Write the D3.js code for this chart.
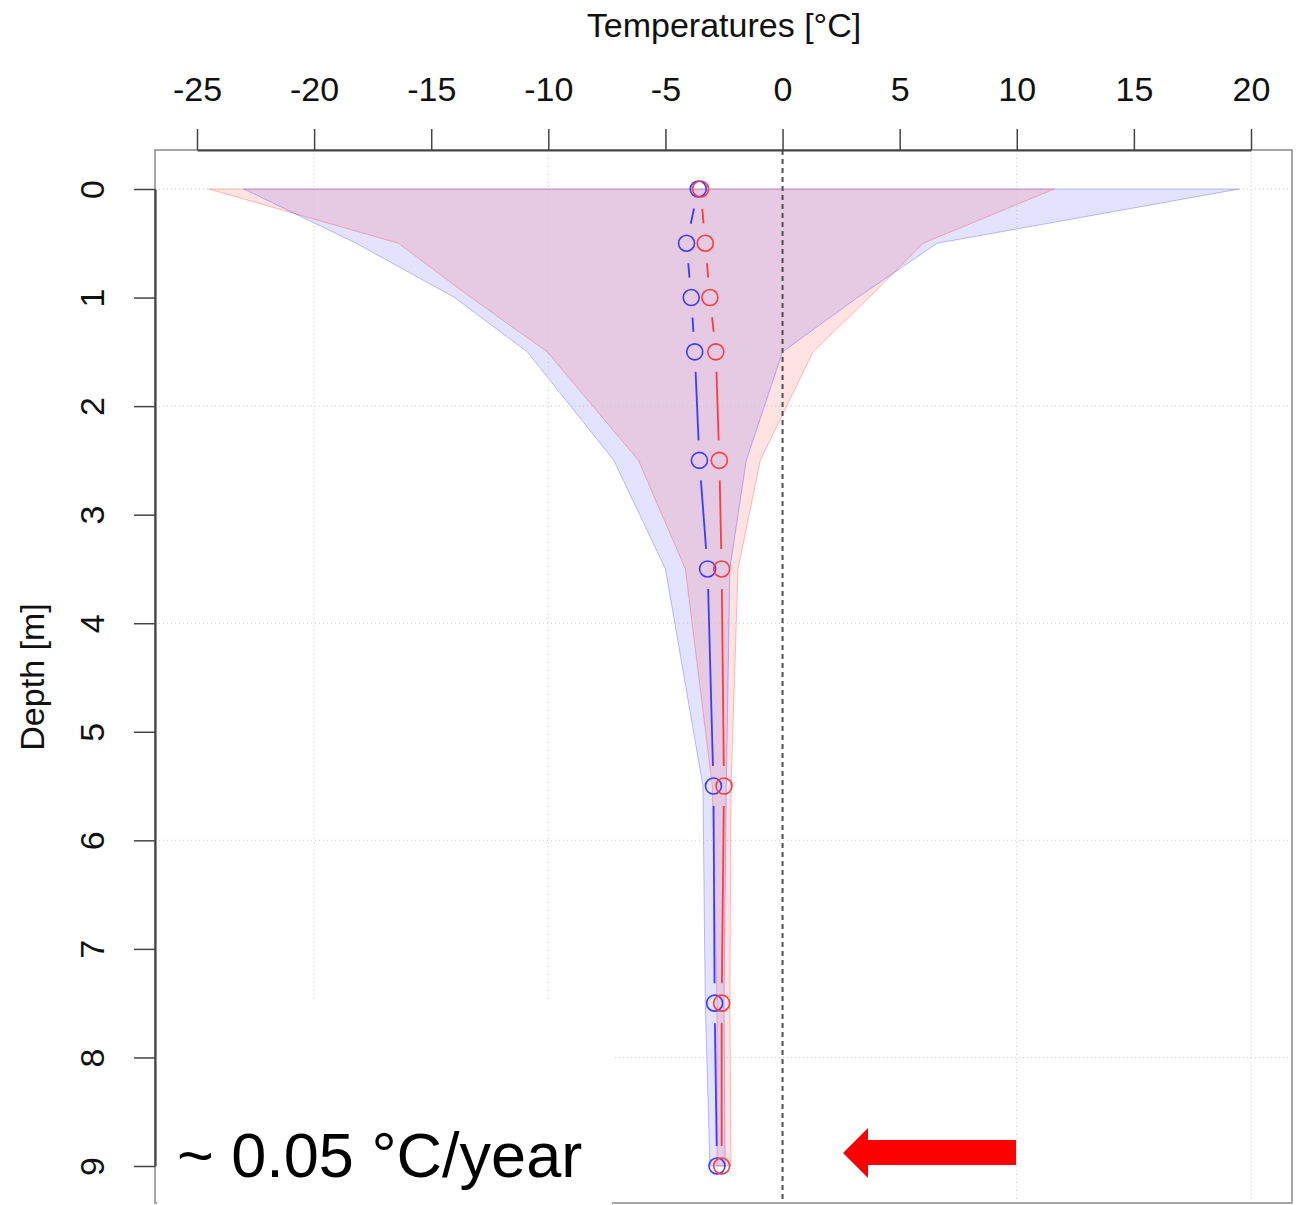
<!DOCTYPE html>
<html>
<head>
<meta charset="utf-8">
<script src="https://cdn.jsdelivr.net/npm/d3@7"></script>
<style>
  html, body { margin: 0; padding: 0; background: #fff; }
  svg { display: block; }
  text { font-family: "Liberation Sans", Arial, Helvetica, sans-serif; }
</style>
</head>
<body>
<svg id="chart" width="1296" height="1205"></svg>
<script>
// ---- data ----
const depths    = [0, 0.5, 1, 1.5, 2.5, 3.5, 5.5, 7.5, 9];
const blueMean  = [-3.6, -4.1, -3.9, -3.75, -3.55, -3.2, -2.95, -2.9, -2.8];
const redMean   = [-3.5, -3.3, -3.1, -2.85, -2.7, -2.6, -2.5, -2.6, -2.6];
const blueMin   = [-23.0, -18.2, -14.0, -10.9, -7.2, -5.0, -3.4, -3.3, -3.1];
const blueMax   = [19.5, 6.6, 3.2, 0.0, -1.55, -2.25, -2.4, -2.5, -2.45];
const redMin    = [-24.5, -16.4, -13.3, -10.05, -6.15, -4.15, -3.0, -2.8, -2.8];
const redMax    = [11.6, 6.0, 3.7, 1.3, -0.95, -1.9, -2.2, -2.25, -2.2];
const xTicks    = [-25, -20, -15, -10, -5, 0, 5, 10, 15, 20];
const yTicks    = [0, 1, 2, 3, 4, 5, 6, 7, 8, 9];
const xGrid     = [-20, -10, 0, 10, 20];
const yGrid     = [0, 2, 4, 6, 8];
const xTitle    = "Temperatures [°C]";
const yTitle    = "Depth [m]";
const note      = "~ 0.05 °C/year";

// ---- layout ----
const svg = d3.select("#chart");
const box = {left: 155, top: 150, right: 1292, bottom: 1203};
const x = d3.scaleLinear().domain([-25, 20]).range([197, 1251]);
const y = d3.scaleLinear().domain([0, 9]).range([189, 1166]);

const blue = "#3b3bff", red = "#ff3b3b";

// envelopes
function envelope(mins, maxs) {
  const pts = depths.map((d, i) => [x(mins[i]), y(d)]);
  for (let i = depths.length - 1; i >= 0; i--) pts.push([x(maxs[i]), y(depths[i])]);
  return pts;
}
const line = d3.line();
svg.append("path").attr("d", line(envelope(blueMin, blueMax)) + "Z")
  .attr("fill", "rgba(0,0,255,0.11)").attr("stroke", "rgba(0,0,255,0.25)").attr("stroke-width", 1);
svg.append("path").attr("d", line(envelope(redMin, redMax)) + "Z")
  .attr("fill", "rgba(255,0,0,0.11)").attr("stroke", "rgba(255,0,0,0.25)").attr("stroke-width", 1);

// grid
svg.append("g").selectAll("line").data(xGrid.filter(v => v !== 0)).join("line")
  .attr("x1", d => x(d)).attr("x2", d => x(d)).attr("y1", box.top).attr("y2", box.bottom)
  .attr("stroke", "#c8c8c8").attr("stroke-width", 1).attr("stroke-dasharray", "1,3");
svg.append("g").selectAll("line").data(yGrid).join("line")
  .attr("x1", box.left).attr("x2", box.right).attr("y1", d => y(d)).attr("y2", d => y(d))
  .attr("stroke", "#c8c8c8").attr("stroke-width", 1).attr("stroke-dasharray", "1,3");

// zero line
svg.append("line").attr("x1", x(0)).attr("x2", x(0)).attr("y1", box.top).attr("y2", box.bottom)
  .attr("stroke", "#505050").attr("stroke-width", 2).attr("stroke-dasharray", "5,4");

// series (lines with gaps + circles)
function series(vals, color) {
  const pts = depths.map((d, i) => [x(vals[i]), y(d)]);
  const g = svg.append("g");
  const gap = 20;
  for (let i = 0; i < pts.length - 1; i++) {
    const [x1, y1] = pts[i], [x2, y2] = pts[i + 1];
    const L = Math.hypot(x2 - x1, y2 - y1);
    if (L <= 2 * gap) continue;
    const ux = (x2 - x1) / L, uy = (y2 - y1) / L;
    g.append("line")
      .attr("x1", x1 + ux * gap).attr("y1", y1 + uy * gap)
      .attr("x2", x2 - ux * gap).attr("y2", y2 - uy * gap)
      .attr("stroke", color).attr("stroke-width", 1.8);
  }
  g.selectAll("circle").data(pts).join("circle")
    .attr("cx", d => d[0]).attr("cy", d => d[1]).attr("r", 8)
    .attr("fill", "none").attr("stroke", color).attr("stroke-width", 1.6);
}
series(blueMean, blue);
series(redMean, red);

// box
svg.append("rect").attr("x", box.left).attr("y", box.top)
  .attr("width", box.right - box.left).attr("height", box.bottom - box.top)
  .attr("fill", "none").attr("stroke", "#8a8a8a").attr("stroke-width", 1.5);

// top axis
const xAxis = d3.axisTop(x).tickValues(xTicks).tickSize(21).tickSizeOuter(0).tickPadding(28).tickFormat(d3.format("d"));
const gx = svg.append("g").attr("transform", `translate(0,${box.top})`).call(xAxis);
gx.select(".domain").attr("stroke", "#444").attr("stroke-width", 2.2);
gx.selectAll(".tick line").attr("stroke", "#444").attr("stroke-width", 1.5);
gx.selectAll(".tick text").attr("font-size", 34).attr("fill", "#111")
  .attr("font-family", "'Liberation Sans', Arial, sans-serif").text(d => d < 0 ? "-" + Math.abs(d) : d);

// left axis
const yAxis = d3.axisLeft(y).tickValues(yTicks).tickSize(21).tickSizeOuter(0).tickFormat(d3.format("d"));
const gy = svg.append("g").attr("transform", `translate(${box.left},0)`).call(yAxis);
gy.select(".domain").attr("stroke", "#444").attr("stroke-width", 2.2);
gy.selectAll(".tick line").attr("stroke", "#444").attr("stroke-width", 1.5);
gy.selectAll(".tick text")
  .attr("font-size", 34).attr("fill", "#111")
  .attr("font-family", "'Liberation Sans', Arial, sans-serif")
  .attr("x", null).attr("dy", null)
  .attr("text-anchor", "middle")
  .attr("transform", "translate(-51,0) rotate(-90)");

// titles
svg.append("text").attr("x", 724).attr("y", 37).attr("text-anchor", "middle")
  .attr("font-size", 34).attr("fill", "#111").text(xTitle);
svg.append("text").attr("transform", "translate(44,677) rotate(-90)").attr("text-anchor", "middle")
  .attr("font-size", 34).attr("fill", "#111").text(yTitle);

// white overlay box with note
svg.append("rect").attr("x", 157).attr("y", 1002).attr("width", 455).attr("height", 205).attr("fill", "#fff");
svg.append("text").attr("x", 177).attr("y", 1177).attr("font-size", 63).attr("fill", "#000").text(note);

// red arrow
const arrow = [[843, 1153], [868, 1128], [868, 1140], [1016, 1140], [1016, 1165], [868, 1165], [868, 1178]];
svg.append("path").attr("d", d3.line()(arrow) + "Z").attr("fill", "#ff0000");
</script>
</body>
</html>
